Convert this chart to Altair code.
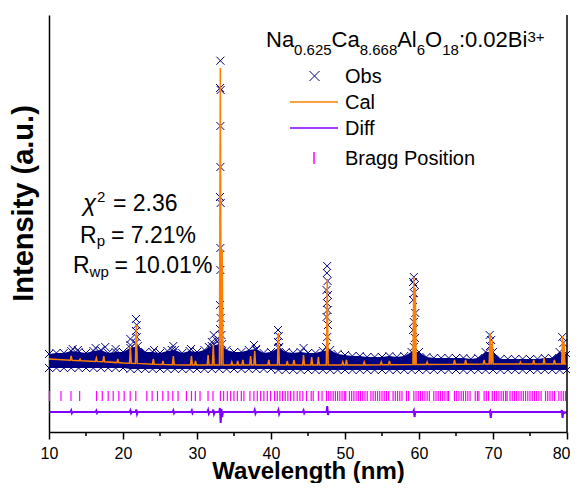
import altair as alt
import pandas as pd

FONT = "Liberation Sans"
NAVY = "#000080"
ORANGE = "#FF8000"
VIOLET = "#8000FF"
MAGENTA = "#FF00FF"
XPATH = "M-1,-1L1,1M1,-1L-1,1"
W, H = 518, 417

# ---- observed pattern: background band (upper / lower envelope, one value per degree)
band_x = list(range(10, 81))
band_top = [900, 950, 950, 1050, 1000, 950, 1050, 1100, 950, 1000,
            1000, 1200, 1300, 1000, 1000, 950, 1050, 1100, 950, 1050,
            1000, 1100, 1300, 1400, 1100, 1000, 1000, 1100, 1150, 950,
            1000, 1200, 1000, 950, 1000, 950, 950, 1050, 1100, 900,
            850, 800, 800, 750, 750, 750, 800, 750, 800, 1000,
            1000, 750, 700, 700, 700, 700, 700, 650, 700, 1000,
            1000, 650, 650, 650, 650, 650, 650, 700, 700, 1000, 900]
band_bot = [200] * 11 + [150] * 20 + [100] * 40

# ---- observed points standing above the background
obs_x = [33.16, 33.12, 33.2, 33.16, 33.16, 33.1, 33.2, 33.16, 33.16, 33.1, 33.2, 33.1, 33.3, 33.0, 33.4,
         47.59, 47.55, 47.65, 47.5, 47.7, 47.55, 47.65, 47.5, 47.7, 47.6, 47.45,
         59.3, 59.2, 59.45, 59.3, 59.2, 59.5, 59.3, 59.2, 59.45, 59.3,
         40.95, 41.05, 40.95, 41.1,
         21.75, 21.85, 21.75, 21.85, 21.7,
         21.0, 21.0,
         69.55, 69.75, 69.6,
         79.35, 79.5,
         32.25, 32.0, 32.6, 31.6,
         37.7, 37.95,
         13.2, 13.9, 16.3, 17.6, 19.0, 24.2, 26.8, 26.6, 29.2, 44.4]
obs_y = [15565, 14200, 14100, 12300, 10250, 8750, 8450, 6200, 5100, 3350, 2700, 2150, 1850, 1600, 1400,
         5300, 4950, 4550, 4100, 3850, 3450, 3100, 2750, 2350, 1750, 1250,
         4750, 4500, 4350, 3950, 3600, 2950, 2500, 2100, 1700, 1250,
         2100, 1800, 1500, 1250,
         2650, 2350, 2050, 1750, 1450,
         1650, 1350,
         1850, 1600, 1300,
         1750, 1450,
         1850, 1500, 1600, 1250,
         1350, 1100,
         1150, 1100, 1200, 1250, 1150, 1100, 1300, 1100, 1150, 1200]

# ---- calculated profile
cal_bg_x = [10, 15, 20, 25, 30, 40, 50, 60, 71, 80]
cal_bg_y = [650, 550, 450, 375, 350, 350, 350, 375, 400, 400]
peak_pos = [13.0, 14.2, 16.4, 17.4, 19.3, 21.0, 21.8, 24.1, 25.4, 26.8,
            29.25, 29.8, 31.5, 32.2, 33.15, 33.4, 34.7, 35.5, 36.2, 37.25,
            37.8, 39.7, 41.0, 42.2, 43.1, 44.4, 45.5, 46.4, 47.6, 49.7,
            50.2, 52.6, 54.9, 56.0, 59.3, 59.5, 61.1, 64.8, 66.3, 68.8,
            69.6, 69.9, 73.7, 75.5, 76.9, 78.3, 79.4, 79.6]
peak_top = [800, 650, 700, 800, 650, 1250, 2350, 650, 550, 800,
            800, 550, 850, 1350, 15200, 6100, 500, 550, 600, 800,
            1050, 600, 1950, 550, 600, 850, 750, 750, 4650, 500,
            600, 500, 500, 550, 4750, 4200, 500, 600, 600, 600,
            1950, 1600, 500, 600, 700, 600, 1800, 1450]
peak_foot = [590, 565, 530, 510, 470, 440, 430, 390, 372, 365,
             355, 352, 350, 350, 350, 350, 350, 350, 350, 350,
             350, 350, 350, 350, 350, 350, 350, 350, 350, 350,
             350, 355, 362, 365, 372, 372, 378, 390, 392, 398,
             400, 400, 400, 400, 400, 400, 400, 400]
PEAK_HALF = 0.12

# ---- Bragg positions
bragg = [10.05, 11.62, 12.97, 14.14, 16.43, 17.2, 18.0, 18.68, 19.44, 20.16, 20.97, 21.73,
         23.22, 23.94, 24.66, 25.38, 26.1, 26.73, 27.44, 28.57, 29.25, 29.78, 30.41, 31.49,
         32.16, 33.16, 33.6, 34.1, 34.55, 34.99, 35.45, 35.99, 36.34, 37.15, 37.69, 38.15,
         38.6, 39.04, 39.5, 39.94, 40.48, 40.85, 41.2, 41.56, 41.92, 42.28, 42.64, 43.09,
         43.54, 43.9, 44.3, 44.8, 45.43, 45.7, 46.4, 46.9, 47.5, 47.8, 48.1, 48.4, 48.7,
         49.0, 49.3, 49.6, 49.9, 50.1, 50.6, 50.9, 51.2, 51.5, 51.8, 52.1, 52.4, 52.7, 53.0,
         53.5, 53.8, 54.1, 54.4, 54.7, 55.0, 55.3, 55.6, 55.9, 56.5, 56.8, 57.1, 57.4, 57.7,
         58.3, 58.6, 59.3, 59.6, 59.9, 60.2, 60.5, 60.8, 61.1, 61.4, 62.0, 62.3, 62.6, 62.9,
         63.2, 63.5, 63.8, 64.0, 64.8, 65.1, 65.4, 65.7, 66.0, 66.3, 66.6, 66.9, 67.6, 67.9,
         68.1, 68.8, 69.1, 69.4, 69.9, 70.2, 70.5, 70.8, 71.1, 71.4, 71.7, 71.9, 72.3, 72.6,
         72.9, 73.2, 73.5, 73.8, 74.1, 74.4, 74.7, 75.0, 75.3, 75.6, 75.9, 76.2, 76.5, 77.1,
         77.4, 77.7, 78.0, 78.3, 78.9, 79.2, 79.5, 79.8]
BRAGG_HI, BRAGG_LO = -950, -1450

# ---- difference curve (flat level with small excursions at the reflections)
diff_x = [10,
          12.9, 13.0, 13.1, 13.2,
          16.3, 16.4, 16.5, 16.6,
          20.9, 21.0, 21.1, 21.2,
          21.7, 21.8, 21.9, 22.0,
          26.7, 26.8, 26.9, 27.0,
          29.2, 29.3, 29.4, 29.5,
          31.4, 31.5, 31.6, 31.7,
          32.1, 32.2, 32.3, 32.4,
          33.0, 33.1, 33.2, 33.3, 33.4, 33.5,
          37.7, 37.8, 37.9, 38.0,
          40.9, 41.0, 41.1, 41.2,
          44.3, 44.4, 44.5, 44.6,
          47.5, 47.6, 47.7, 47.8,
          59.2, 59.3, 59.4, 59.5,
          69.5, 69.6, 69.7, 69.8,
          79.2, 79.3, 79.4, 79.5, 79.6, 80]
diff_y = [-2000,
          -2000, -1920, -2060, -2000,
          -2000, -1930, -2050, -2000,
          -2000, -1920, -2060, -2000,
          -2000, -1870, -2100, -2000,
          -2000, -1920, -2060, -2000,
          -2000, -1920, -2060, -2000,
          -2000, -1900, -2080, -2000,
          -2000, -1880, -2100, -2000,
          -2000, -1800, -2550, -1850, -2250, -2000,
          -2000, -1900, -2080, -2000,
          -2000, -1900, -2100, -2000,
          -2000, -1920, -2060, -2000,
          -2000, -1700, -2150, -2000,
          -2000, -1920, -2250, -2000,
          -2000, -1950, -2300, -2000,
          -2000, -1900, -2300, -1950, -2050, -2000]

x_major = [10, 20, 30, 40, 50, 60, 70, 80]
x_minor = [15, 25, 35, 45, 55, 65, 75]

# ---------------- tables
band_df = pd.DataFrame({"x": band_x, "y": band_top, "y2": band_bot})
edge_df = pd.DataFrame({"x": band_x + band_x, "y": band_top + band_bot})
obs_df = pd.DataFrame({"x": obs_x, "y": obs_y})
cal_rows = list(zip(cal_bg_x, cal_bg_y))
for p, t, f in zip(peak_pos, peak_top, peak_foot):
    cal_rows += [(p - PEAK_HALF, f), (p, t), (p + PEAK_HALF, f)]
cal_df = pd.DataFrame(cal_rows, columns=["x", "y"]).sort_values("x")
bragg_df = pd.DataFrame({"x": bragg})
diff_df = pd.DataFrame({"x": diff_x, "y": diff_y})
minor_df = pd.DataFrame({"x": x_minor})

xs = alt.Scale(domain=[10, 80], nice=False, zero=False)
ys = alt.Scale(domain=[-3000, 17850], nice=False, zero=False)
x_axis = alt.Axis(values=x_major, format="d", title="Wavelength (nm)", titleFont=FONT,
                  titleFontSize=24, titleFontWeight="bold", titleColor="black",
                  titleY=46, titleBaseline="alphabetic",
                  labelFont=FONT, labelFontSize=16, labelColor="black", labelPadding=6,
                  labelFlush=False,
                  labelAlign=alt.ConditionalAxisLabelAlign(
                      condition={"test": "datum.value == 80", "value": "right"},
                      value="center"),
                  labelOffset=alt.ConditionalAxisNumber(
                      condition={"test": "datum.value == 80", "value": 3},
                      value=0),
                  tickSize=7, tickWidth=1.5, tickColor="black",
                  domainColor="black", domainWidth=1.5, grid=False)
y_axis = alt.Axis(title="Intensity (a.u.)", labels=False, ticks=False, grid=False,
                  domainColor="black", domainWidth=1.5, titleFont=FONT, titleFontSize=29,
                  titleFontWeight="bold", titleColor="black", titleX=-17, titleY=188,
                  titleAngle=270, titleAlign="center", titleBaseline="alphabetic")


def X(f="x"):
    return alt.X(f, type="quantitative", scale=xs, axis=x_axis)


def Y(f="y"):
    return alt.Y(f, type="quantitative", scale=ys, axis=y_axis)


band = alt.Chart(band_df).mark_area(color=NAVY, opacity=1).encode(x=X(), y=Y(), y2="y2")
edges = alt.Chart(edge_df).mark_point(shape=XPATH, filled=False, size=64, strokeWidth=1,
                                      color=NAVY, opacity=1).encode(x=X(), y=Y())
obs = alt.Chart(obs_df).mark_point(shape=XPATH, filled=False, size=64, strokeWidth=1,
                                   color=NAVY, opacity=1).encode(x=X(), y=Y())
cal = alt.Chart(cal_df).mark_line(color=ORANGE, strokeWidth=1.5).encode(x=X(), y=Y())
braggs = alt.Chart(bragg_df).mark_rule(color=MAGENTA, strokeWidth=1.2).encode(
    x=X(), y=alt.datum(BRAGG_HI), y2=alt.datum(BRAGG_LO))
diff = alt.Chart(diff_df).mark_line(color=VIOLET, strokeWidth=2).encode(x=X(), y=Y())
minor = alt.Chart(minor_df).mark_rule(color="black", strokeWidth=1.5).encode(
    x=X(), y=alt.value(H), y2=alt.value(H + 4))
right = alt.Chart(minor_df.head(1)).mark_rule(color="black", strokeWidth=1.5).encode(
    x=alt.datum(80), y=alt.value(0), y2=alt.value(H))

anchor = alt.Data(values=[{}])


def label(text, x, y, size, italic=False):
    return alt.Chart(anchor).mark_text(
        text=text, font=FONT, fontSize=size, fontStyle="italic" if italic else "normal",
        align="left", baseline="alphabetic", color="black").encode(
        x=alt.value(x), y=alt.value(y))


annotations = [
    # formula title
    ("Na", 217, 31.7, 22), ("0.625", 245.1, 40, 15), ("Ca", 282.6, 31.7, 22),
    ("8.668", 310.7, 40, 15), ("Al", 348.2, 31.7, 22), ("6", 367.8, 40, 15),
    ("O", 376.1, 31.7, 22), ("18", 393.2, 40, 15), (":0.02Bi", 409.9, 31.7, 22),
    ("3+", 478.4, 26.5, 15),
    # legend text
    ("Obs", 296, 68, 20), ("Cal", 296, 94, 20), ("Diff", 296, 120, 20),
    ("Bragg Position", 296, 150, 20),
    # fit statistics
    ("2", 48, 187, 15), ("= 2.36", 64, 195.7, 23),
    ("R", 31, 227.7, 23), ("p", 47.8, 231, 15), ("= 7.21%", 62, 227.7, 23),
    ("R", 24, 258.3, 23), ("wp", 40.6, 262, 15), ("= 10.01%", 65.5, 258.3, 23),
]
texts = [label(*a) for a in annotations]
texts.append(label("χ", 34, 195.7, 24, italic=True))

leg_obs = alt.Chart(anchor).mark_point(shape=XPATH, filled=False, size=100, strokeWidth=1,
                                       color=NAVY, opacity=1).encode(
    x=alt.value(265.5), y=alt.value(61))
leg_cal = alt.Chart(anchor).mark_rule(color=ORANGE, strokeWidth=1.5).encode(
    x=alt.value(241), x2=alt.value(289), y=alt.value(87))
leg_diff = alt.Chart(anchor).mark_rule(color=VIOLET, strokeWidth=1.5).encode(
    x=alt.value(241), x2=alt.value(289), y=alt.value(113))
leg_bragg = alt.Chart(anchor).mark_rule(color=MAGENTA, strokeWidth=1.5).encode(
    x=alt.value(265), y=alt.value(137), y2=alt.value(149))

chart = alt.layer(band, edges, obs, cal, braggs, diff, minor, right,
                  leg_obs, leg_cal, leg_diff, leg_bragg, *texts).properties(
    width=W, height=H,
    autosize=alt.AutoSizeParams(type="none"),
    padding={"left": 41, "top": 7, "right": 3, "bottom": 51},
).configure(font=FONT).configure_view(stroke=None)

chart.save("out.html", embed_options={"renderer": "svg", "actions": False})
